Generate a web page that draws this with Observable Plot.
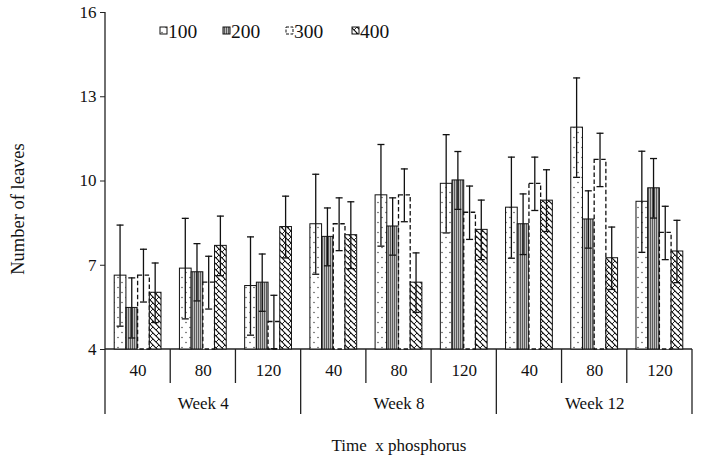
<!DOCTYPE html>
<html><head><meta charset="utf-8">
<script src="https://cdn.jsdelivr.net/npm/d3@7"></script>
<script src="https://cdn.jsdelivr.net/npm/@observablehq/plot@0.6"></script>
<style>
body{margin:0;background:#fff}
#chart svg, #chart svg text {font-family: "Liberation Serif", "DejaVu Serif", serif !important;}
</style>
</head><body><div id="chart"></div>
<script>
const weeks = ["Week 4", "Week 8", "Week 12"];
const phosphorus = ["40", "80", "120"];
const series = ["100", "200", "300", "400"];
const yTicks = [4, 7, 10, 13, 16];
// means per group, order: W4-40, W4-80, W4-120, W8-40, ..., W12-120
const means100 = [6.63, 6.88, 6.26, 8.46, 9.49, 9.90, 9.05, 11.90, 9.26];
const means200 = [5.48, 6.75, 6.38, 8.01, 8.38, 10.02, 8.46, 8.63, 9.74];
const means300 = [6.63, 6.38, 4.98, 8.46, 9.49, 8.87, 9.90, 10.75, 8.15];
const means400 = [6.02, 7.69, 8.36, 8.07, 6.38, 8.26, 9.30, 7.25, 7.49];
const err100 = [1.80, 1.79, 1.75, 1.78, 1.81, 1.75, 1.80, 1.77, 1.80];
const err200 = [1.07, 1.02, 1.02, 1.03, 1.02, 1.03, 1.08, 1.02, 1.06];
const err300 = [0.94, 0.94, 0.95, 0.94, 0.94, 0.95, 0.95, 0.95, 0.95];
const err400 = [1.06, 1.06, 1.10, 1.19, 1.06, 1.06, 1.10, 1.11, 1.11];

const meanBy = {"100": means100, "200": means200, "300": means300, "400": means400};
const errBy = {"100": err100, "200": err200, "300": err300, "400": err400};
const groups = [];
weeks.forEach(w => phosphorus.forEach(p => groups.push(w + "|" + p)));
const rows = series.flatMap(s => groups.map((k, i) => ({key: k, s, mean: meanBy[s][i], err: errBy[s][i]})));

const W = 702, H = 463, ML = 105, MR = 10, MT = 12, MB = 114;
const bw = (W - ML - MR) / groups.length;
const sw = 11.7;
const pad = (bw - series.length * sw) / 2;
const FONT = "'Liberation Serif', 'DejaVu Serif', serif";

function decor(index, scales, values, dims) {
  const {width, height, marginLeft, marginRight, marginTop, marginBottom} = dims;
  const y0 = height - marginBottom;
  const bwid = (width - marginLeft - marginRight) / groups.length;
  const g = d3.create("svg:g");
  const defs = g.append("defs");
  const p1 = defs.append("pattern").attr("id", "pat100").attr("patternUnits", "userSpaceOnUse")
    .attr("width", 8).attr("height", 10);
  p1.append("rect").attr("width", 8).attr("height", 10).attr("fill", "white");
  p1.append("circle").attr("cx", 2).attr("cy", 2.5).attr("r", 0.7).attr("fill", "#333");
  p1.append("circle").attr("cx", 6).attr("cy", 7.5).attr("r", 0.7).attr("fill", "#333");
  const p2 = defs.append("pattern").attr("id", "pat200").attr("patternUnits", "userSpaceOnUse")
    .attr("width", 2).attr("height", 4);
  p2.append("rect").attr("width", 2).attr("height", 4).attr("fill", "#bdbdbd");
  p2.append("rect").attr("width", 0.8).attr("height", 4).attr("fill", "#444");
  const p3 = defs.append("pattern").attr("id", "pat300").attr("patternUnits", "userSpaceOnUse")
    .attr("width", 4).attr("height", 4);
  p3.append("rect").attr("width", 4).attr("height", 4).attr("fill", "white");
  const p4 = defs.append("pattern").attr("id", "pat400").attr("patternUnits", "userSpaceOnUse")
    .attr("width", 6).attr("height", 6);
  p4.append("rect").attr("width", 6).attr("height", 6).attr("fill", "white");
  p4.append("path").attr("d", "M0,0L6,6M-3,3L0,6M3,-3L9,3").attr("stroke", "#111").attr("stroke-width", 1.2).attr("fill", "none");
  p4.append("path").attr("d", "M0,6L3,3").attr("stroke", "#111").attr("stroke-width", 0.9).attr("fill", "none");

  const ln = (x1, y1, x2, y2) => g.append("line").attr("x1", x1).attr("y1", y1).attr("x2", x2).attr("y2", y2)
    .attr("stroke", "#222").attr("stroke-width", 1.3);
  ln(marginLeft, marginTop, marginLeft, y0 + 65);
  ln(marginLeft, y0, width - marginRight, y0);
  for (let i = 1; i <= groups.length; i++) {
    const x = marginLeft + i * bwid;
    ln(x, y0, x, y0 + (i % phosphorus.length === 0 ? 65 : 34));
  }
  const lx = [160, 223, 286, 352];
  series.forEach((s, j) => {
    g.append("rect").attr("x", lx[j]).attr("y", 27).attr("width", 7).attr("height", 7)
      .attr("fill", `url(#pat${s})`).attr("stroke", "#111").attr("stroke-width", 1)
      .attr("stroke-dasharray", j === 2 ? "3,1.5" : null);
    g.append("text").attr("x", lx[j] + 8).attr("y", 37.5).attr("font-size", 19.5)
      .attr("text-anchor", "start").attr("font-family", FONT).attr("fill", "#111").text(s);
  });
  return g.node();
}

const marks = [decor];
series.forEach((s, j) => {
  const rs = rows.filter(d => d.s === s);
  marks.push(Plot.barY(rs, {
    x: "key", y1: 4, y2: "mean", fill: `url(#pat${s})`, stroke: "#111",
    strokeWidth: j === 2 ? 1.3 : 1, strokeDasharray: j === 2 ? "4.5,2.5" : undefined,
    insetLeft: pad + j * sw, insetRight: bw - pad - (j + 1) * sw
  }));
});
series.forEach((s, j) => {
  const rs = rows.filter(d => d.s === s);
  const c = pad + (j + 0.5) * sw;
  marks.push(Plot.barY(rs, {x: "key", y1: d => d.mean - d.err, y2: d => d.mean + d.err, fill: "#111",
    insetLeft: c - 0.65, insetRight: bw - c - 0.65}));
  marks.push(Plot.tickY(rs, {x: "key", y: d => d.mean + d.err, stroke: "#111", strokeWidth: 1.3,
    insetLeft: c - 3.5, insetRight: bw - c - 3.5}));
  marks.push(Plot.tickY(rs, {x: "key", y: d => d.mean - d.err, stroke: "#111", strokeWidth: 1.3,
    insetLeft: c - 3.5, insetRight: bw - c - 3.5}));
});
marks.push(Plot.axisY({ticks: yTicks, tickSize: 5, tickPadding: 4, fontSize: 17, label: null, stroke: "#222"}));
marks.push(Plot.axisX({tickSize: 0, tickPadding: 14, fontSize: 17, label: null, tickFormat: k => k.split("|")[1]}));
marks.push(Plot.axisX({tickSize: 0, tickPadding: 47, fontSize: 17, label: null,
  tickFormat: k => k.endsWith("|" + phosphorus[1]) ? k.split("|")[0] : ""}));
marks.push(Plot.text(["Number of leaves"], {text: d => d, frameAnchor: "left", textAnchor: "middle", rotate: -90, dx: -87, dy: 28, fontSize: 18.5}));
marks.push(Plot.text(["Time  x phosphorus"], {text: d => d, frameAnchor: "bottom", dy: 101, fontSize: 17}));

const chart = Plot.plot({
  width: W, height: H, marginLeft: ML, marginRight: MR, marginTop: MT, marginBottom: MB,
  style: {fontFamily: FONT, fontSize: "17px", color: "#111", background: "white"},
  x: {type: "band", domain: groups, padding: 0, round: false},
  y: {domain: [4, 16], range: [H - MB, MT]},
  marks
});
chart.setAttribute("font-family", FONT);
document.getElementById("chart").appendChild(chart);
</script>
</body></html>
